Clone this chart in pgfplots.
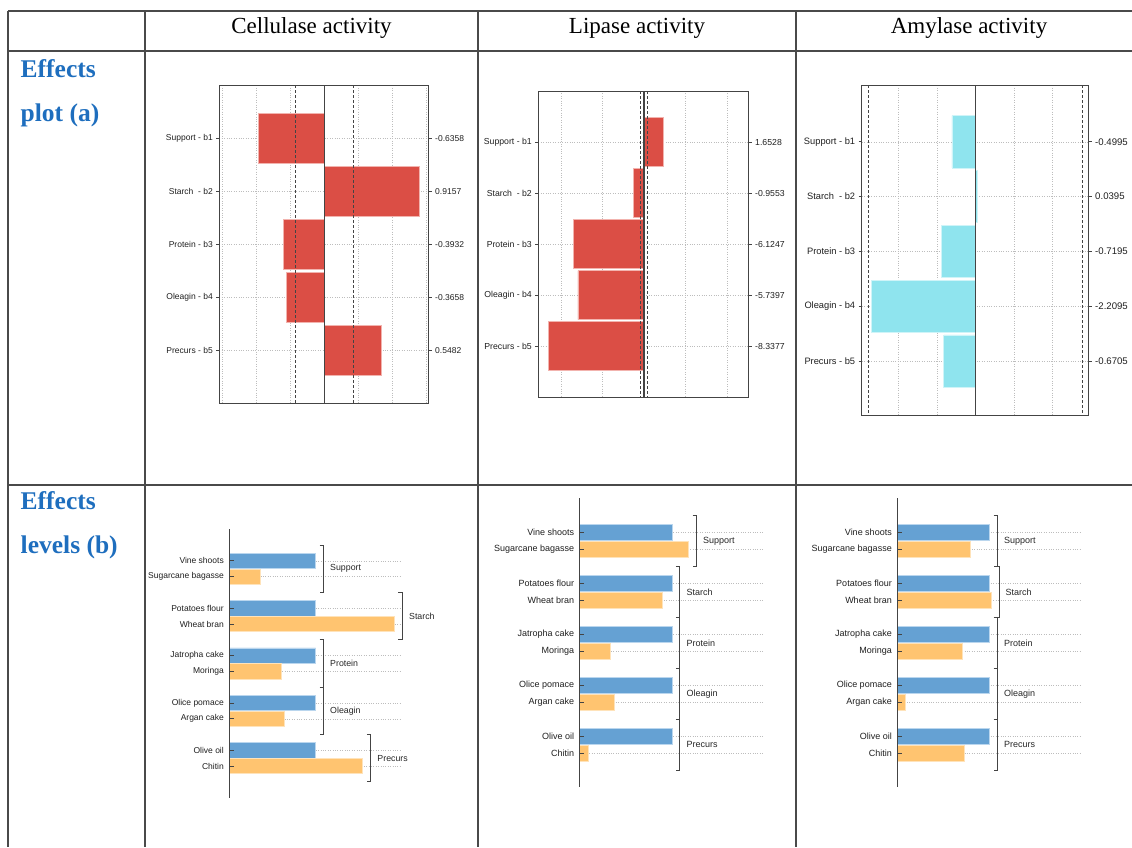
\documentclass[border=0pt]{standalone}
\usepackage{fontspec}
\setmainfont{Liberation Serif}
\setsansfont{Liberation Sans}
\usepackage{pgfplots}
\pgfplotsset{compat=1.18}

\definecolor{tblline}{HTML}{4A4A4A}
\definecolor{hdrblue}{HTML}{1E6EBE}
\definecolor{effred}{HTML}{DB4E45}
\definecolor{effredE}{HTML}{F2B3AE}
\definecolor{effcyan}{HTML}{8FE4EE}
\definecolor{effcyanE}{HTML}{CFF4F8}
\definecolor{lvblue}{HTML}{65A1D3}
\definecolor{lvblueE}{HTML}{BAD6EE}
\definecolor{lvorange}{HTML}{FFC470}
\definecolor{lvorangeE}{HTML}{FFE3BA}
\definecolor{axgray}{HTML}{444444}
\definecolor{gridgray}{HTML}{BDBDBD}

\pgfplotsset{
  effbase/.style={
    scale only axis, anchor=north west, y dir=reverse, clip=false,
    ytick={1,2,3,4,5}, ytick pos=left, tick align=outside,
    major tick length=3pt,
    xticklabels={}, x tick style={draw=none},
    xmajorgrids, ymajorgrids,
    grid style={dotted, gridgray, line width=0.45pt},
    axis line style={axgray, line width=0.8pt},
    y tick style={axgray, line width=0.6pt},
  },
  effright/.style={
    scale only axis, anchor=north west, y dir=reverse,
    xmin=0, xmax=1, xtick=\empty,
    axis line style={draw=none},
    ytick={1,2,3,4,5}, ytick pos=right, yticklabel pos=right,
    tick align=outside, major tick length=3pt,
    y tick style={axgray, line width=0.6pt},
  },
  levbase/.style={
    scale only axis, anchor=north west, y dir=reverse, clip=false,
    ymin=-2, ymax=15, xmin=0,
    xtick=\empty,
    axis line style={draw=none},
    ytick={0,1,3,4,6,7,9,10,12,13},
    yticklabels={Vine shoots, Sugarcane bagasse, Potatoes flour, Wheat bran, Jatropha cake, Moringa, Olice pomace, Argan cake, Olive oil, Chitin},
    ytick pos=left, tick align=inside, major tick length=4.5pt,
    y tick style={draw=none},
    ymajorgrids,
    grid style={dotted, gridgray, line width=0.45pt},
    yticklabel style={xshift=-2pt},
  },
  levticks/.style={
    scale only axis, anchor=north west, y dir=reverse, clip=false,
    ymin=-2, ymax=15, xmin=0, xmax=1,
    xtick=\empty,
    axis line style={draw=none},
    ytick={0,1,3,4,6,7,9,10,12,13}, yticklabels={},
    ytick pos=left, tick align=inside, major tick length=4.5pt,
    y tick style={axgray, line width=0.9pt},
  },
}

\tikzset{brk/.style={axgray, line width=0.9pt}}

\newcommand{\grpfont}{\sffamily\fontsize{8.8}{10}\selectfont}
% group bracket: #1 x value, #2 start, #3 end, #4 middle, #5 label
\newcommand{\grp}[5]{%
  \draw[brk] ([xshift=4pt]axis cs:#1,#2) -- ([xshift=8pt]axis cs:#1,#2) -- ([xshift=8pt]axis cs:#1,#3) -- ([xshift=4pt]axis cs:#1,#3);
  \node[anchor=west, inner sep=0pt, text=black!85, font=\grpfont] at ([xshift=14.5pt]axis cs:#1,#4) {#5};
}

\begin{document}
\begin{tikzpicture}

% ---------------- table frame ----------------
\begin{scope}[tblline, line width=1.3pt]
  \draw (8pt,-11pt) -- (1132pt,-11pt);
  \draw (8pt,-51pt) -- (1132pt,-51pt);
  \draw (8pt,-485pt) -- (1132pt,-485pt);
  \draw (8pt,-11pt) -- (8pt,-847pt);
  \draw (145pt,-11pt) -- (145pt,-847pt);
  \draw (478pt,-11pt) -- (478pt,-847pt);
  \draw (796pt,-11pt) -- (796pt,-847pt);
\end{scope}

% headers
\node[anchor=base, inner sep=0pt, font=\fontsize{23}{27}\selectfont] at (311.5pt,-33pt) {Cellulase activity};
\node[anchor=base, inner sep=0pt, font=\fontsize{23}{27}\selectfont] at (637pt,-33pt) {Lipase activity};
\node[anchor=base, inner sep=0pt, font=\fontsize{23}{27}\selectfont] at (969pt,-33pt) {Amylase activity};

\node[anchor=base west, inner sep=0pt, text=hdrblue, font=\fontsize{25.5}{30}\selectfont\bfseries] at (20.5pt,-77pt) {Effects};
\node[anchor=base west, inner sep=0pt, text=hdrblue, font=\fontsize{25.5}{30}\selectfont\bfseries] at (20.5pt,-121pt) {plot (a)};
\node[anchor=base west, inner sep=0pt, text=hdrblue, font=\fontsize{25.5}{30}\selectfont\bfseries] at (20.5pt,-509.5pt) {Effects};
\node[anchor=base west, inner sep=0pt, text=hdrblue, font=\fontsize{25.5}{30}\selectfont\bfseries] at (20.5pt,-553.5pt) {levels (b)};

% ---------------- (a) Cellulase ----------------
\begin{axis}[effbase, at={(219.3pt,-85.3pt)}, width=209.4pt, height=318pt,
  xmin=-1.0145, xmax=1.0087, ymin=0, ymax=6,
  xtick={-0.984,-0.656,-0.328,0,0.328,0.656,0.984},
  yticklabels={Support - b1, Starch\ \ - b2, Protein - b3, Oleagin - b4, Precurs - b5},
  yticklabel style={font=\sffamily\fontsize{8.5}{10}\selectfont, text=black!88}]
  \addplot[xbar, bar width=0.94, bar shift=0pt, fill=effred, draw=effredE, line width=0.6pt]
    coordinates {(-0.6358,1) (0.9157,2) (-0.3932,3) (-0.3658,4) (0.5482,5)};
  \addplot[axgray, line width=0.8pt, dash pattern=on 3pt off 2pt] coordinates {(-0.282,0) (-0.282,6)};
  \addplot[axgray, line width=0.8pt, dash pattern=on 3pt off 2pt] coordinates {(0.282,0) (0.282,6)};
  \addplot[axgray, line width=0.8pt] coordinates {(0,0) (0,6)};
\end{axis}
\begin{axis}[effright, at={(219.3pt,-85.3pt)}, width=209.4pt, height=318pt, ymin=0, ymax=6,
  yticklabels={-0.6358, 0.9157, -0.3932, -0.3658, 0.5482},
  yticklabel style={font=\sffamily\fontsize{8.5}{10}\selectfont, text=black!88}]
  \addplot[draw=none] coordinates {(0.5,1)};
\end{axis}

% ---------------- (a) Lipase ----------------
\begin{axis}[effbase, at={(538.3pt,-91pt)}, width=210.4pt, height=306.3pt,
  xmin=-9.19, xmax=9.10, ymin=0, ymax=6,
  xtick={-7.2,-3.6,0,3.6,7.2},
  yticklabels={Support - b1, Starch\ \ - b2, Protein - b3, Oleagin - b4, Precurs - b5},
  yticklabel style={font=\sffamily\fontsize{8.7}{10}\selectfont, text=black!88}]
  \addplot[xbar, bar width=0.96, bar shift=0pt, fill=effred, draw=effredE, line width=0.6pt]
    coordinates {(1.6528,1) (-0.9553,2) (-6.1247,3) (-5.7397,4) (-8.3377,5)};
  \addplot[axgray, line width=0.8pt, dash pattern=on 3pt off 2pt] coordinates {(-0.33,0) (-0.33,6)};
  \addplot[axgray, line width=0.8pt, dash pattern=on 3pt off 2pt] coordinates {(0.33,0) (0.33,6)};
  \addplot[axgray, line width=1.1pt] coordinates {(0,0) (0,6)};
\end{axis}
\begin{axis}[effright, at={(538.3pt,-91pt)}, width=210.4pt, height=306.3pt, ymin=0, ymax=6,
  yticklabels={1.6528, -0.9553, -6.1247, -5.7397, -8.3377},
  yticklabel style={font=\sffamily\fontsize{8.7}{10}\selectfont, text=black!88}]
  \addplot[draw=none] coordinates {(0.5,1)};
\end{axis}

% ---------------- (a) Amylase ----------------
\begin{axis}[effbase, at={(861.7pt,-85.3pt)}, width=227pt, height=329.7pt,
  xmin=-2.417, xmax=2.413, ymin=-0.03, ymax=5.985,
  xtick={-1.64,-0.82,0,0.82,1.64},
  yticklabels={Support - b1, Starch\ \ - b2, Protein - b3, Oleagin - b4, Precurs - b5},
  yticklabel style={font=\sffamily\fontsize{9.3}{11}\selectfont, text=black!88}]
  \addplot[xbar, bar width=0.955, bar shift=0pt, fill=effcyan, draw=effcyanE, line width=0.6pt]
    coordinates {(-0.4995,1) (0.0395,2) (-0.7195,3) (-2.2095,4) (-0.6705,5)};
  \addplot[axgray, line width=0.8pt, dash pattern=on 3pt off 2pt] coordinates {(-2.27,-0.03) (-2.27,5.985)};
  \addplot[axgray, line width=0.8pt, dash pattern=on 3pt off 2pt] coordinates {(2.27,-0.03) (2.27,5.985)};
  \addplot[axgray, line width=0.8pt] coordinates {(0,-0.03) (0,5.985)};
\end{axis}
\begin{axis}[effright, at={(861.7pt,-85.3pt)}, width=227pt, height=329.7pt, ymin=-0.03, ymax=5.985,
  yticklabels={-0.4995, 0.0395, -0.7195, -2.2095, -0.6705},
  yticklabel style={font=\sffamily\fontsize{9.6}{11}\selectfont, text=black!88}]
  \addplot[draw=none] coordinates {(0.5,1)};
\end{axis}

% ---------------- (b) Cellulase ----------------
\renewcommand{\grpfont}{\sffamily\fontsize{8.8}{10}\selectfont}
\begin{axis}[levbase, at={(229.3pt,-529.3pt)}, width=172.4pt, height=268.4pt, xmax=2,
  yticklabel style={font=\sffamily\fontsize{8.5}{10}\selectfont, text=black!88}]
  \addplot[xbar, bar width=0.97, bar shift=0pt, fill=lvblue, draw=lvblueE, line width=0.6pt]
    coordinates {(1,0) (1,3) (1,6) (1,9) (1,12)};
  \addplot[xbar, bar width=0.97, bar shift=0pt, fill=lvorange, draw=lvorangeE, line width=0.6pt]
    coordinates {(0.3642,1) (1.9157,4) (0.6068,7) (0.6342,10) (1.5482,13)};
  \grp{1}{-1}{2}{0.5}{Support}
  \grp{1.9157}{2}{5}{3.5}{Starch}
  \grp{1}{5}{8}{6.5}{Protein}
  \grp{1}{8}{11}{9.5}{Oleagin}
  \grp{1.5482}{11}{14}{12.5}{Precurs}
  \draw[axgray, line width=0.9pt] (axis cs:0,-2) -- (axis cs:0,15);
\end{axis}
\begin{axis}[levticks, at={(229.3pt,-529.3pt)}, width=172.4pt, height=268.4pt]
  \addplot[draw=none] coordinates {(0.5,1)};
\end{axis}

% ---------------- (b) Lipase ----------------
\renewcommand{\grpfont}{\sffamily\fontsize{9}{11}\selectfont}
\begin{axis}[levbase, at={(579.7pt,-498.3pt)}, width=184.3pt, height=289pt, xmax=18.3,
  yticklabel style={font=\sffamily\fontsize{9}{11}\selectfont, text=black!88}]
  \addplot[xbar, bar width=0.96, bar shift=0pt, fill=lvblue, draw=lvblueE, line width=0.6pt]
    coordinates {(9.15,0) (9.15,3) (9.15,6) (9.15,9) (9.15,12)};
  \addplot[xbar, bar width=0.96, bar shift=0pt, fill=lvorange, draw=lvorangeE, line width=0.6pt]
    coordinates {(10.8028,1) (8.1947,4) (3.0253,7) (3.4103,10) (0.8123,13)};
  \grp{10.8028}{-1}{2}{0.5}{Support}
  \grp{9.15}{2}{5}{3.5}{Starch}
  \grp{9.15}{5}{8}{6.5}{Protein}
  \grp{9.15}{8}{11}{9.5}{Oleagin}
  \grp{9.15}{11}{14}{12.5}{Precurs}
  \draw[axgray, line width=0.9pt] (axis cs:0,-2) -- (axis cs:0,15);
\end{axis}
\begin{axis}[levticks, at={(579.7pt,-498.3pt)}, width=184.3pt, height=289pt]
  \addplot[draw=none] coordinates {(0.5,1)};
\end{axis}

% ---------------- (b) Amylase ----------------
\begin{axis}[levbase, at={(897.3pt,-498.3pt)}, width=184.4pt, height=289pt, xmax=4.84,
  yticklabel style={font=\sffamily\fontsize{9}{11}\selectfont, text=black!88}]
  \addplot[xbar, bar width=0.96, bar shift=0pt, fill=lvblue, draw=lvblueE, line width=0.6pt]
    coordinates {(2.42,0) (2.42,3) (2.42,6) (2.42,9) (2.42,12)};
  \addplot[xbar, bar width=0.96, bar shift=0pt, fill=lvorange, draw=lvorangeE, line width=0.6pt]
    coordinates {(1.9205,1) (2.4595,4) (1.7005,7) (0.2105,10) (1.7495,13)};
  \grp{2.42}{-1}{2}{0.5}{Support}
  \grp{2.4595}{2}{5}{3.5}{Starch}
  \grp{2.42}{5}{8}{6.5}{Protein}
  \grp{2.42}{8}{11}{9.5}{Oleagin}
  \grp{2.42}{11}{14}{12.5}{Precurs}
  \draw[axgray, line width=0.9pt] (axis cs:0,-2) -- (axis cs:0,15);
\end{axis}
\begin{axis}[levticks, at={(897.3pt,-498.3pt)}, width=184.4pt, height=289pt]
  \addplot[draw=none] coordinates {(0.5,1)};
\end{axis}

\pgfresetboundingbox
\path[use as bounding box] (0pt,0pt) rectangle (1132pt,-847pt);
\end{tikzpicture}
\end{document}
